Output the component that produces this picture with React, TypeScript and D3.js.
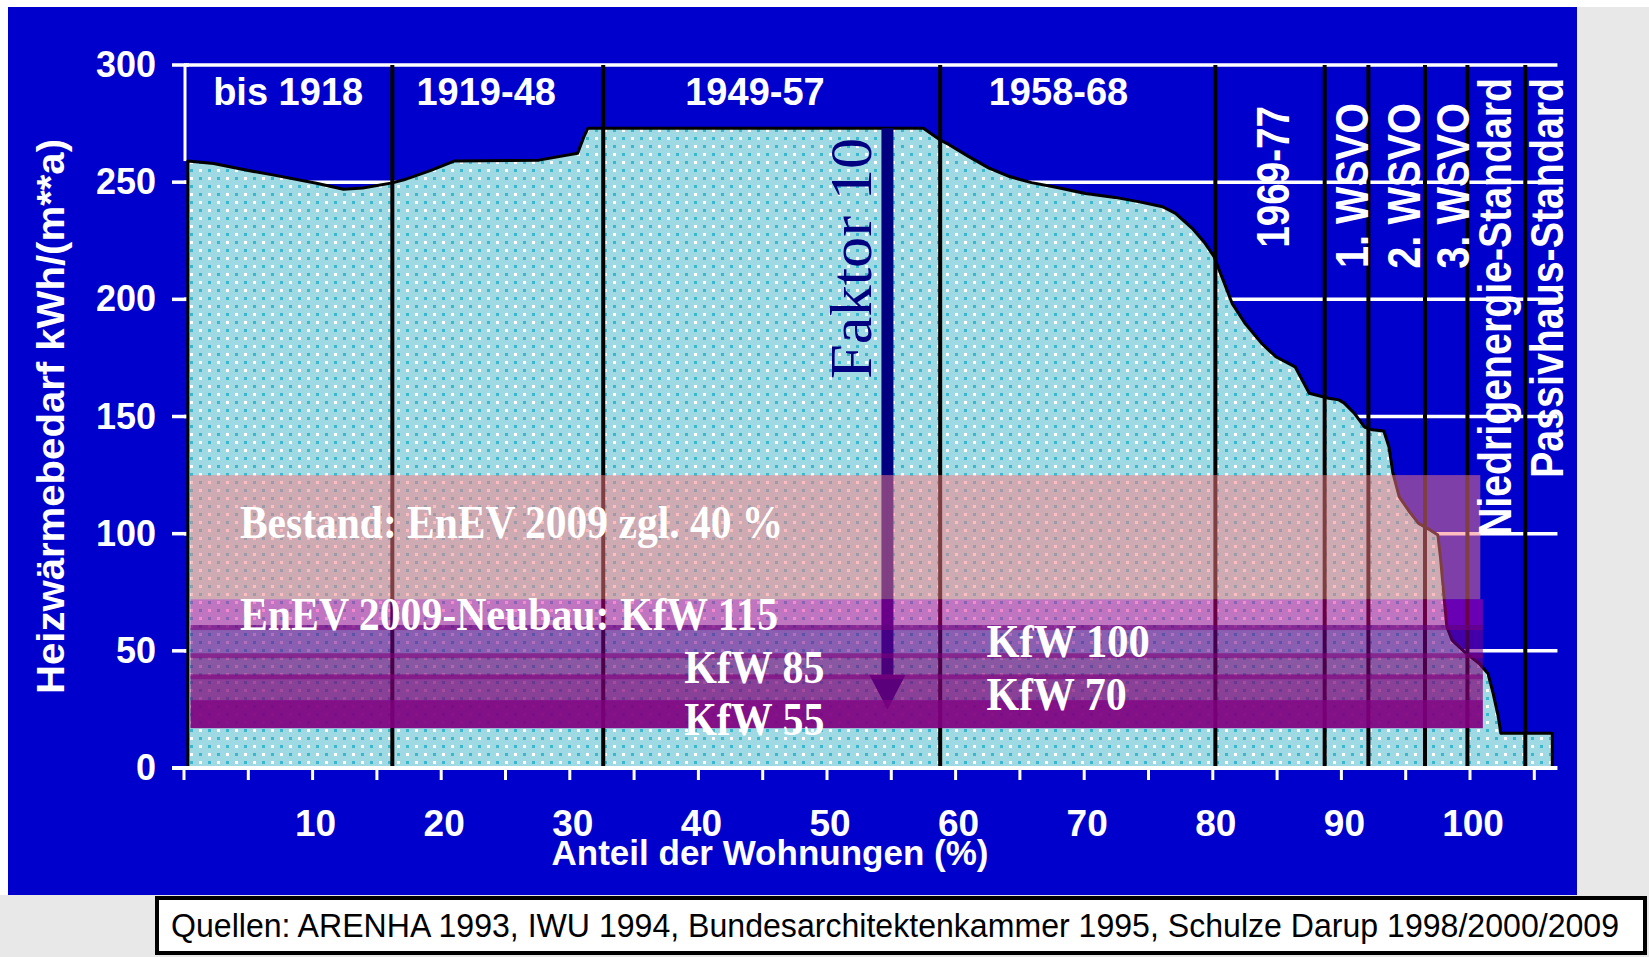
import * as d3 from "d3";

// Heizwärmebedarf der Wohngebäude nach Baualter, x = Anteil der Wohnungen (%)
const CURVE: [number, number][] = [
  [0.3, 259], [2.3, 258], [5, 255], [7, 253], [10.3, 249.5], [12.4, 247], [13.9, 247.5],
  [16.2, 249.7], [17.1, 251], [19.2, 255], [21, 259], [27.6, 259.4], [30.6, 262.3],
  [31.1, 269.4], [31.4, 273], [57.5, 273], [58.8, 268], [59.5, 266], [61, 261], [62.6, 256],
  [64.2, 252.4], [65.9, 249.8], [67.8, 247.8], [70.1, 245.2], [72.4, 243.5], [74.3, 241.6],
  [76.1, 239.5], [77.1, 236.7], [78.4, 230.3], [79.4, 223.9], [80.1, 218.2], [80.7, 209.7],
  [81.5, 198.3], [82.5, 189.8], [83.8, 181.2], [84.9, 175.5], [86.4, 171.2], [87.5, 159.9],
  [89, 157.8], [89.8, 157.1], [90.2, 155.8], [91, 151.4], [91.8, 145.5], [92.4, 144.3],
  [93.3, 143.8], [93.7, 137], [94, 126], [94.5, 115.7], [95.3, 109.3], [96, 104.4],
  [96.9, 101.6], [97.5, 99.4], [97.7, 90.1], [98, 71.7], [98.2, 60.3], [98.6, 54.6],
  [99.7, 48.9], [100.7, 44.7], [101.4, 40.3], [101.8, 31.8], [102.2, 21.9], [102.4, 14.8],
  [106.4, 14.8],
];

const Y_TICKS = [0, 50, 100, 150, 200, 250, 300];
const X_MINOR = [0, 5, 10, 15, 20, 25, 30, 35, 40, 45, 50, 55, 60, 65, 70, 75, 80, 85, 90, 95, 100, 105];
const X_LABELS = [10, 20, 30, 40, 50, 60, 70, 80, 90, 100];
const AXIS_MAX = 106.8;

// Grenzen der Baualtersklassen (%)
const DIVIDERS = [16.2, 32.6, 58.8, 80.2, 88.7, 92.1, 96.5, 99.8, 104.3];

const PERIODS = [
  { label: "bis 1918", at: 8.1 },
  { label: "1919-48", at: 23.5 },
  { label: "1949-57", at: 44.4 },
  { label: "1958-68", at: 68.0 },
];

const PERIODS_V = [
  { label: "1969-77", at: 85.9, from: 222, to: 282.5 },
  { label: "1. WSVO", at: 92.1, from: 213.4, to: 283.8 },
  { label: "2. WSVO", at: 96.1, from: 213, to: 283.8 },
  { label: "3. WSVO", at: 99.9, from: 213, to: 283.8 },
  { label: "Niedrigenergie-Standard", at: 103.2, from: 99, to: 294.5 },
  { label: "Passivhaus-Standard", at: 107.2, from: 123.8, to: 294.5 },
];

// Anforderungsniveaus (kWh/(m²a))
const BANDS = [
  { name: "Bestand", lo: 72, hi: 125, x0: 0.5, x1: 100.8, color: "rgb(254,126,132)", op: 0.5, edge: false },
  { name: "KfW 115", lo: 61, hi: 72, x0: 0.5, x1: 101, color: "rgb(230,0,150)", op: 0.46, edge: false },
  { name: "KfW 100", lo: 49, hi: 61, x0: 0.5, x1: 101, color: "rgb(121,0,139)", op: 0.56, edge: true },
  { name: "KfW 85", lo: 40, hi: 49, x0: 0.5, x1: 101, color: "rgb(125,0,120)", op: 0.6, edge: true },
  { name: "KfW 70", lo: 29, hi: 40, x0: 0.5, x1: 101, color: "rgb(128,0,120)", op: 0.7, edge: true },
  { name: "KfW 55", lo: 17, hi: 29, x0: 0.5, x1: 101, color: "rgb(128,0,128)", op: 0.93, edge: false },
];

const BAND_LABELS = [
  { text: "Bestand: EnEV 2009 zgl. 40 %", x0: 4.35, x1: 46.6, v: 98.2 },
  { text: "EnEV 2009-Neubau: KfW 115", x0: 4.35, x1: 46.2, v: 58.9 },
  { text: "KfW 100", x0: 62.4, x1: 75.1, v: 47.4 },
  { text: "KfW 85", x0: 38.9, x1: 49.8, v: 36.3 },
  { text: "KfW 70", x0: 62.4, x1: 73.3, v: 24.8 },
  { text: "KfW 55", x0: 38.9, x1: 49.8, v: 14.1 },
];

const ARROW = { at: 54.7, from: 273, head: 39.7, tip: 25 };
const FAKTOR = { text: "Faktor 10", at: 53.4, from: 166, to: 268.9 };

const SOURCE = "Quellen: ARENHA 1993, IWU 1994, Bundesarchitektenkammer 1995, Schulze Darup 1998/2000/2009";

const SANS = "'Liberation Sans', Arial, sans-serif";
const SERIF = "'Liberation Serif', 'Times New Roman', serif";

export default function App() {
  const x = d3.scaleLinear().domain([0, 100]).range([184, 1470]);
  const y = d3.scaleLinear().domain([0, 300]).range([768, 65]);

  const area = d3
    .area<[number, number]>()
    .x((d) => x(d[0]))
    .y0(y(0))
    .y1((d) => y(d[1]));

  const xL = x(0);
  const xR = x(AXIS_MAX);

  return (
    <svg
      width={1649}
      height={957}
      style={{ position: "absolute", left: 0, top: 0 }}
      xmlns="http://www.w3.org/2000/svg"
    >
      <defs>
        <pattern id="dots" width={18} height={16} patternUnits="userSpaceOnUse">
          <rect width={18} height={16} fill="#9fd9e3" />
          <rect x={1} y={1} width={3} height={3} fill="#3cb8cc" />
          <rect x={10} y={1} width={3} height={3} fill="#ffffff" />
          <rect x={1} y={9} width={3} height={3} fill="#ffffff" />
          <rect x={10} y={9} width={3} height={3} fill="#3cb8cc" />
        </pattern>
      </defs>

      <rect width={1649} height={957} fill="#ffffff" />
      <rect x={8} y={7} width={1641} height={950} fill="#e8e8e8" />
      <rect x={0} y={895} width={1649} height={62} fill="#e8e8e8" />
      <rect x={8} y={7} width={1569} height={888} fill="#0000cc" />

      {/* gridlines */}
      {Y_TICKS.filter((v) => v > 0).map((v) => (
        <line key={v} x1={xL} x2={xR} y1={y(v)} y2={y(v)} stroke="#fff" strokeWidth={3.5} />
      ))}
      <line x1={xL + 1} x2={xL + 1} y1={y(300)} y2={y(CURVE[0][1])} stroke="#fff" strokeWidth={3} />
      {Y_TICKS.map((v) => (
        <line key={v} x1={172} x2={189} y1={y(v)} y2={y(v)} stroke="#fff" strokeWidth={3.5} />
      ))}

      {/* area */}
      <path d={area(CURVE) ?? ""} fill="url(#dots)" stroke="#000" strokeWidth={3} strokeLinejoin="round" />

      {/* period dividers */}
      {DIVIDERS.map((p) => (
        <line key={p} x1={x(p)} x2={x(p)} y1={y(300)} y2={y(0)} stroke="#000" strokeWidth={4} />
      ))}

      {/* Faktor 10 arrow */}
      <rect
        x={x(ARROW.at) - 6}
        y={y(ARROW.from)}
        width={12}
        height={y(ARROW.head) - y(ARROW.from)}
        fill="#000080"
      />
      <path
        d={`M${x(ARROW.at) - 18},${y(ARROW.head)} L${x(ARROW.at) + 18},${y(ARROW.head)} L${x(ARROW.at)},${y(ARROW.tip)} Z`}
        fill="#000080"
      />

      {/* bands */}
      {BANDS.map((b) => (
        <g key={b.name}>
          <rect
            x={x(b.x0)}
            y={y(b.hi)}
            width={x(b.x1) - x(b.x0)}
            height={y(b.lo) - y(b.hi)}
            fill={b.color}
            fillOpacity={b.op}
          />
          {b.edge && (
            <rect
              x={x(b.x0)}
              y={y(b.hi)}
              width={x(b.x1) - x(b.x0)}
              height={5}
              fill="rgb(128,0,128)"
              fillOpacity={0.55}
            />
          )}
        </g>
      ))}

      {/* x axis */}
      <line x1={172} x2={xR} y1={y(0)} y2={y(0)} stroke="#fff" strokeWidth={4} />
      {X_MINOR.map((p) => (
        <line key={p} x1={x(p)} x2={x(p)} y1={y(0)} y2={y(0) + 12} stroke="#fff" strokeWidth={3} />
      ))}
      {X_LABELS.map((p) => (
        <text
          key={p}
          x={x(p) + 3}
          y={836}
          fill="#fff"
          fontFamily={SANS}
          fontWeight="bold"
          fontSize={37}
          textAnchor="middle"
        >
          {p}
        </text>
      ))}
      <text
        x={770}
        y={865}
        fill="#fff"
        fontFamily={SANS}
        fontWeight="bold"
        fontSize={35}
        textAnchor="middle"
        textLength={437}
        lengthAdjust="spacingAndGlyphs"
      >
        Anteil der Wohnungen (%)
      </text>

      {/* y axis labels */}
      {Y_TICKS.map((v) => (
        <text
          key={v}
          x={156}
          y={y(v) + 12}
          fill="#fff"
          fontFamily={SANS}
          fontWeight="bold"
          fontSize={36}
          textAnchor="end"
        >
          {v}
        </text>
      ))}
      <text
        transform={`translate(64,${(y(0) + y(300)) / 2}) rotate(-90)`}
        fill="#fff"
        fontFamily={SANS}
        fontWeight="bold"
        fontSize={39}
        textAnchor="middle"
        textLength={555}
        lengthAdjust="spacingAndGlyphs"
      >
        Heizwärmebedarf  kWh/(m**a)
      </text>

      {/* period labels */}
      {PERIODS.map((p) => (
        <text
          key={p.label}
          x={x(p.at)}
          y={105}
          fill="#fff"
          fontFamily={SANS}
          fontWeight="bold"
          fontSize={38}
          textAnchor="middle"
        >
          {p.label}
        </text>
      ))}
      {PERIODS_V.map((p) => (
        <text
          key={p.label}
          transform={`translate(${x(p.at)},${y(p.from)}) rotate(-90)`}
          fill="#fff"
          fontFamily={SANS}
          fontWeight="bold"
          fontSize={46}
          textLength={y(p.from) - y(p.to)}
          lengthAdjust="spacingAndGlyphs"
        >
          {p.label}
        </text>
      ))}

      {/* Faktor 10 */}
      <text
        transform={`translate(${x(FAKTOR.at)},${y(FAKTOR.from)}) rotate(-90)`}
        fill="#000080"
        fontFamily={SERIF}
        fontSize={60}
        textLength={y(FAKTOR.from) - y(FAKTOR.to)}
        lengthAdjust="spacingAndGlyphs"
      >
        {FAKTOR.text}
      </text>

      {/* band labels */}
      {BAND_LABELS.map((l) => (
        <text
          key={l.text}
          x={x(l.x0)}
          y={y(l.v)}
          fill="#fff"
          fontFamily={SERIF}
          fontWeight="bold"
          fontSize={46}
          textLength={x(l.x1) - x(l.x0)}
          lengthAdjust="spacingAndGlyphs"
        >
          {l.text}
        </text>
      ))}

      {/* source box */}
      <rect x={157} y={898} width={1488} height={55} fill="#fff" stroke="#000" strokeWidth={4} />
      <text
        x={171}
        y={937}
        fill="#000"
        fontFamily={SANS}
        fontSize={34}
        textLength={1448}
        lengthAdjust="spacingAndGlyphs"
      >
        {SOURCE}
      </text>
    </svg>
  );
}
